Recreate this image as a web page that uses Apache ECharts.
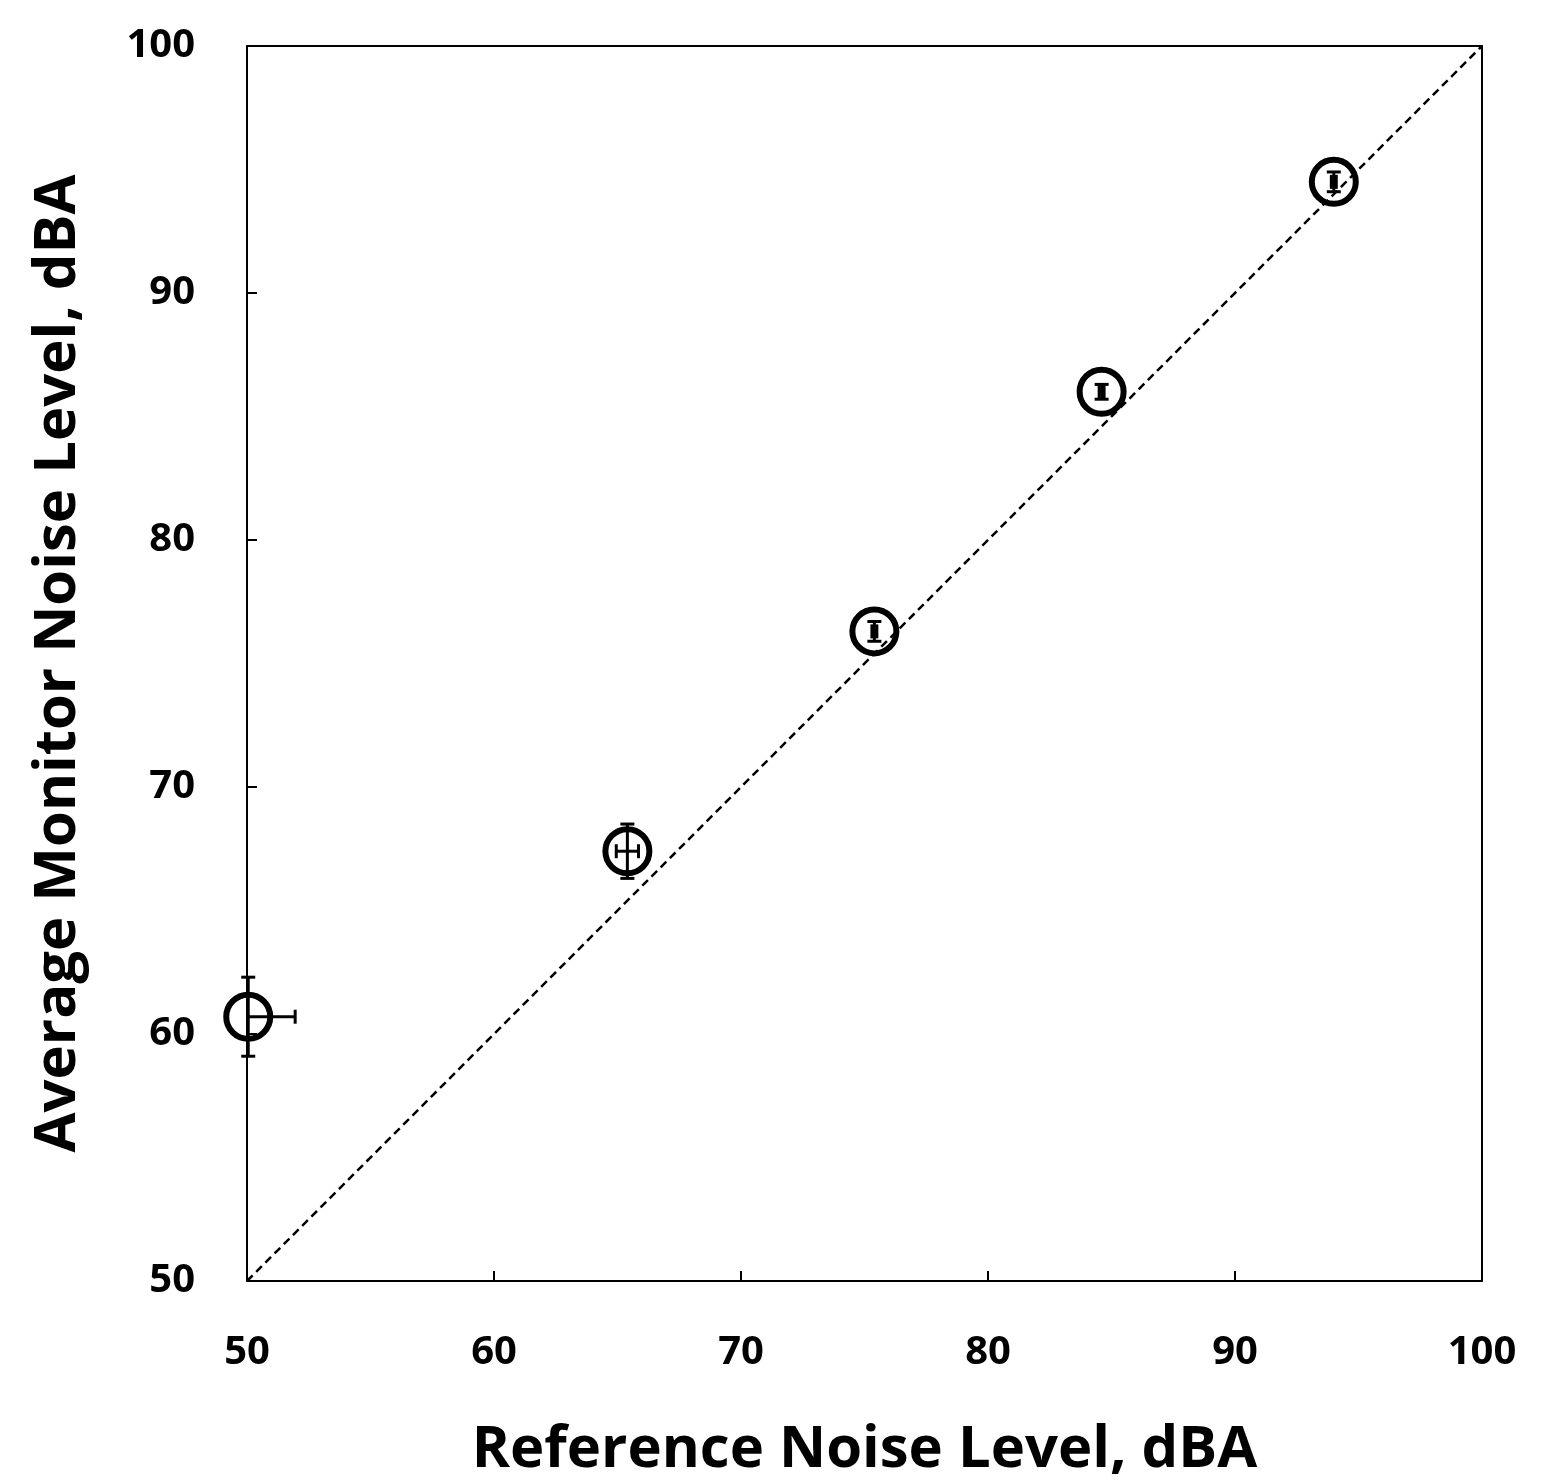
<!DOCTYPE html>
<html><head><meta charset="utf-8">
<script src="https://cdn.jsdelivr.net/npm/echarts@6/dist/echarts.min.js"></script>
<style>html,body{margin:0;padding:0;background:#fff}#c{width:1550px;height:1484px}</style>
</head><body><div id="c"></div>
<script>
const refLevel = [50.05, 65.4, 75.4, 84.6, 94.0];
const monitorLevel = [60.7, 67.4, 76.3, 86.0, 94.5];
const yErr = [1.6, 1.1, 0.4, 0.3, 0.4];
const xErr = [1.9, 0.45, 0.1, 0.1, 0.1];
const identityLine = [[50, 50], [100, 100]];

const font = '"Open Sans", "Liberation Sans", sans-serif';
const chart = echarts.init(document.getElementById('c'));
const errData = refLevel.map((x, i) => [x, monitorLevel[i], xErr[i], yErr[i]]);
function errRender(params, api) {
  const x = api.value(0), y = api.value(1), dx = api.value(2), dy = api.value(3);
  const c = api.coord([x, y]);
  const top = api.coord([x, y + dy]), bot = api.coord([x, y - dy]);
  const l = api.coord([Math.max(50, x - dx), y]), r = api.coord([x + dx, y]);
  const cap = 7, st = {stroke: '#000', lineWidth: 3};
  const ch = [
    {type: 'line', shape: {x1: c[0], y1: top[1], x2: c[0], y2: bot[1]}, style: st},
    {type: 'line', shape: {x1: c[0] - cap, y1: top[1], x2: c[0] + cap, y2: top[1]}, style: st},
    {type: 'line', shape: {x1: c[0] - cap, y1: bot[1], x2: c[0] + cap, y2: bot[1]}, style: st},
    {type: 'line', shape: {x1: l[0], y1: c[1], x2: r[0], y2: c[1]}, style: st},
    {type: 'line', shape: {x1: r[0], y1: c[1] - cap, x2: r[0], y2: c[1] + cap}, style: st}
  ];
  if (x - dx > 50) ch.push({type: 'line', shape: {x1: l[0], y1: c[1] - cap, x2: l[0], y2: c[1] + cap}, style: st});
  return {type: 'group', children: ch};
}
function ax(extra) {
  return Object.assign({
    type: 'value', min: 50, max: 100, interval: 10,
    axisLine: {show: true, onZero: false, lineStyle: {color: '#000', width: 2}},
    axisTick: {show: true, inside: true, length: 10, lineStyle: {color: '#000', width: 2}},
    splitLine: {show: false},
    nameLocation: 'middle',
    nameTextStyle: {fontFamily: font, fontWeight: 'bold', fontSize: 58, color: '#000'},
    axisLabel: {fontFamily: font, fontWeight: 'bold', fontSize: 40, color: '#000'}
  }, extra);
}
chart.setOption({
  animation: false,
  grid: {left: 247, right: 68, top: 46, bottom: 201},
  xAxis: [
    ax({position: 'bottom', name: 'Reference Noise Level, dBA', nameGap: 140,
      axisLabel: {fontFamily: font, fontWeight: 'bold', fontSize: 40, color: '#000', margin: 52}}),
    ax({position: 'top', axisTick: {show: false}, axisLabel: {show: false}})
  ],
  yAxis: [
    ax({position: 'left', name: 'Average Monitor Noise Level, dBA', nameGap: 160,
      axisLabel: {fontFamily: font, fontWeight: 'bold', fontSize: 40, color: '#000', margin: 52}}),
    ax({position: 'right', axisTick: {show: false}, axisLabel: {show: false}})
  ],
  series: [
    {type: 'line', data: identityLine, symbol: 'none', lineStyle: {color: '#000', width: 2.5, type: [8, 5]}, z: 1},
    {type: 'scatter', data: refLevel.map((x, i) => [x, monitorLevel[i]]), symbol: 'circle', symbolSize: 44,
      itemStyle: {color: 'rgba(0,0,0,0)', borderColor: '#000', borderWidth: 6, opacity: 1}, z: 3},
    {type: 'custom', data: errData, renderItem: errRender, encode: {x: 0, y: 1}, z: 4, clip: false}
  ]
});
</script></body></html>
